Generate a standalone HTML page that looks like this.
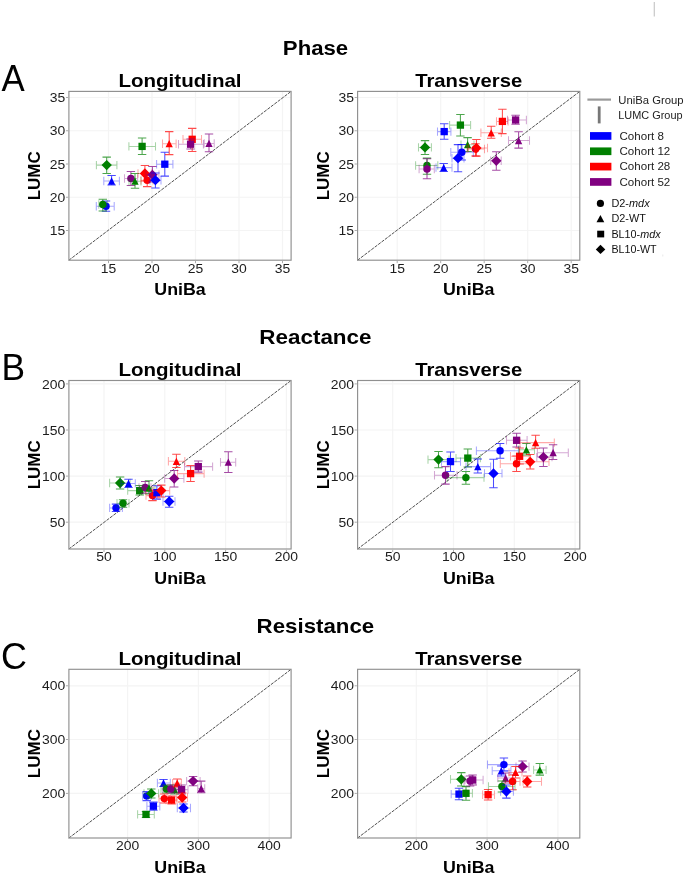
<!DOCTYPE html>
<html><head><meta charset="utf-8"><style>
html,body{margin:0;padding:0;background:#fff;}
svg{display:block;}
text{font-family:"Liberation Sans",sans-serif;}
svg{will-change:transform;}
.tk{font-size:13.4px;fill:#1c1c1c;}
.sub{font-size:18.6px;font-weight:bold;fill:#000;}
.sup{font-size:19.8px;font-weight:bold;fill:#000;}
.lab{font-size:16.1px;font-weight:bold;fill:#000;}
.labv{font-size:17px;font-weight:bold;fill:#000;}
.let{font-size:37px;fill:#000;}
.lg{font-size:11.2px;fill:#222;}
.lm{font-size:10.5px;fill:#111;}
</style></head><body>
<svg width="685" height="875" viewBox="0 0 685 875">
<rect width="685" height="875" fill="#fff"/>
<text transform="translate(315.5 55.1) scale(1.1210 1)" class="sup" text-anchor="middle">Phase</text>
<text transform="translate(315.4 344.1) scale(1.1340 1)" class="sup" text-anchor="middle">Reactance</text>
<text transform="translate(315.4 632.5) scale(1.1250 1)" class="sup" text-anchor="middle">Resistance</text>
<text transform="translate(1.6 91.3) scale(0.9400 1)" class="let">A</text>
<text transform="translate(1.4 379.9) scale(0.9550 1)" class="let">B</text>
<text transform="translate(0.9 669.3) scale(0.9700 1)" class="let">C</text>
<path d="M108.5 91.4V260.2M152 91.4V260.2M195.5 91.4V260.2M239 91.4V260.2M282.5 91.4V260.2M68.9 230.5H291.1M68.9 197.25H291.1M68.9 164H291.1M68.9 130.75H291.1M68.9 97.5H291.1" stroke="#f4f4f4" stroke-width="1.2" fill="none"/>
<path d="M68.9 260.2L291.1 91.4" stroke="#303030" stroke-width="0.85" stroke-dasharray="3.2 1.1" fill="none"/>
<g stroke="#0000ff" stroke-opacity="0.34" stroke-width="1.05" fill="none"><path d="M96.3 206.3H114.2M96.3 202.1V210.5M114.2 202.1V210.5"/></g><g stroke="#0000ff" stroke-opacity="0.7" stroke-width="1.05" fill="none"><path d="M106 201V211.3M101.8 201H110.2M101.8 211.3H110.2"/></g>
<circle cx="106" cy="206.3" r="3.72" fill="#0000ff"/>
<g stroke="#008000" stroke-opacity="0.34" stroke-width="1.05" fill="none"><path d="M98.8 204.5H107.2M98.8 200.3V208.7M107.2 200.3V208.7"/></g><g stroke="#008000" stroke-opacity="0.7" stroke-width="1.05" fill="none"><path d="M102.8 199.3V211M98.6 199.3H107M98.6 211H107"/></g>
<circle cx="102.8" cy="204.5" r="3.72" fill="#008000"/>
<g stroke="#0000ff" stroke-opacity="0.34" stroke-width="1.05" fill="none"><path d="M103.8 181H119.4M103.8 176.8V185.2M119.4 176.8V185.2"/></g><g stroke="#0000ff" stroke-opacity="0.7" stroke-width="1.05" fill="none"><path d="M111.6 175.5V184.9M107.4 175.5H115.8M107.4 184.9H115.8"/></g>
<path d="M111.6 177.35L115.25 184.65L107.95 184.65Z" fill="#0000ff"/>
<g stroke="#800080" stroke-opacity="0.34" stroke-width="1.05" fill="none"><path d="M124.5 178.5H137.6M124.5 174.3V182.7M137.6 174.3V182.7"/></g><g stroke="#800080" stroke-opacity="0.7" stroke-width="1.05" fill="none"><path d="M130.9 171.5V185.5M126.7 171.5H135.1M126.7 185.5H135.1"/></g>
<circle cx="130.9" cy="178.5" r="3.72" fill="#800080"/>
<g stroke="#008000" stroke-opacity="0.34" stroke-width="1.05" fill="none"><path d="M129 181.2H141M129 177V185.4M141 177V185.4"/></g><g stroke="#008000" stroke-opacity="0.7" stroke-width="1.05" fill="none"><path d="M135 173.4V188.2M130.8 173.4H139.2M130.8 188.2H139.2"/></g>
<path d="M135 177.55L138.65 184.85L131.35 184.85Z" fill="#008000"/>
<g stroke="#ff0000" stroke-opacity="0.34" stroke-width="1.05" fill="none"><path d="M138 173.5H152M138 169.3V177.7M152 169.3V177.7"/></g><g stroke="#ff0000" stroke-opacity="0.7" stroke-width="1.05" fill="none"><path d="M144.9 165.4V181M140.7 165.4H149.1M140.7 181H149.1"/></g>
<path d="M144.9 168.34L150.06 173.5L144.9 178.66L139.74 173.5Z" fill="#ff0000"/>
<g stroke="#ff0000" stroke-opacity="0.34" stroke-width="1.05" fill="none"><path d="M141 180.2H153M141 176V184.4M153 176V184.4"/></g><g stroke="#ff0000" stroke-opacity="0.7" stroke-width="1.05" fill="none"><path d="M147.2 174V186.6M143 174H151.4M143 186.6H151.4"/></g>
<circle cx="147.2" cy="180.2" r="3.72" fill="#ff0000"/>
<g stroke="#800080" stroke-opacity="0.34" stroke-width="1.05" fill="none"><path d="M146 174.8H159M146 170.6V179M159 170.6V179"/></g><g stroke="#800080" stroke-opacity="0.7" stroke-width="1.05" fill="none"><path d="M152.4 166.4V182M148.2 166.4H156.6M148.2 182H156.6"/></g>
<path d="M152.4 169.64L157.56 174.8L152.4 179.96L147.24 174.8Z" fill="#800080"/>
<g stroke="#0000ff" stroke-opacity="0.34" stroke-width="1.05" fill="none"><path d="M150 180.2H161M150 176V184.4M161 176V184.4"/></g><g stroke="#0000ff" stroke-opacity="0.7" stroke-width="1.05" fill="none"><path d="M155.4 173V188M151.2 173H159.6M151.2 188H159.6"/></g>
<path d="M155.4 175.04L160.56 180.2L155.4 185.36L150.24 180.2Z" fill="#0000ff"/>
<g stroke="#0000ff" stroke-opacity="0.34" stroke-width="1.05" fill="none"><path d="M156.6 164.2H172.9M156.6 160V168.4M172.9 160V168.4"/></g><g stroke="#0000ff" stroke-opacity="0.7" stroke-width="1.05" fill="none"><path d="M164.8 152.2V176.1M160.6 152.2H169M160.6 176.1H169"/></g>
<rect x="161.15" y="160.55" width="7.3" height="7.3" fill="#0000ff"/>
<g stroke="#008000" stroke-opacity="0.34" stroke-width="1.05" fill="none"><path d="M96.4 165.1H116.9M96.4 160.9V169.3M116.9 160.9V169.3"/></g><g stroke="#008000" stroke-opacity="0.7" stroke-width="1.05" fill="none"><path d="M106.7 157.1V173.4M102.5 157.1H110.9M102.5 173.4H110.9"/></g>
<path d="M106.7 159.94L111.86 165.1L106.7 170.26L101.54 165.1Z" fill="#008000"/>
<g stroke="#008000" stroke-opacity="0.34" stroke-width="1.05" fill="none"><path d="M128.9 146.4H155.5M128.9 142.2V150.6M155.5 142.2V150.6"/></g><g stroke="#008000" stroke-opacity="0.7" stroke-width="1.05" fill="none"><path d="M142.1 138V154.4M137.9 138H146.3M137.9 154.4H146.3"/></g>
<rect x="138.45" y="142.75" width="7.3" height="7.3" fill="#008000"/>
<g stroke="#ff0000" stroke-opacity="0.34" stroke-width="1.05" fill="none"><path d="M162.5 143.7H176.1M162.5 139.5V147.9M176.1 139.5V147.9"/></g><g stroke="#ff0000" stroke-opacity="0.7" stroke-width="1.05" fill="none"><path d="M169.2 131.6V154.6M165 131.6H173.4M165 154.6H173.4"/></g>
<path d="M169.2 140.05L172.85 147.35L165.55 147.35Z" fill="#ff0000"/>
<g stroke="#ff0000" stroke-opacity="0.34" stroke-width="1.05" fill="none"><path d="M183 139.3H201.5M183 135.1V143.5M201.5 135.1V143.5"/></g><g stroke="#ff0000" stroke-opacity="0.7" stroke-width="1.05" fill="none"><path d="M192.2 128.4V151.4M188 128.4H196.4M188 151.4H196.4"/></g>
<rect x="188.55" y="135.65" width="7.3" height="7.3" fill="#ff0000"/>
<g stroke="#800080" stroke-opacity="0.34" stroke-width="1.05" fill="none"><path d="M178.5 144.2H203.4M178.5 140V148.4M203.4 140V148.4"/></g><g stroke="#800080" stroke-opacity="0.7" stroke-width="1.05" fill="none"><path d="M190.6 139V149M186.4 139H194.8M186.4 149H194.8"/></g>
<rect x="186.95" y="140.55" width="7.3" height="7.3" fill="#800080"/>
<g stroke="#800080" stroke-opacity="0.34" stroke-width="1.05" fill="none"><path d="M204.2 143.4H214.2M204.2 139.2V147.6M214.2 139.2V147.6"/></g><g stroke="#800080" stroke-opacity="0.7" stroke-width="1.05" fill="none"><path d="M209 134V151.7M204.8 134H213.2M204.8 151.7H213.2"/></g>
<path d="M209 139.75L212.65 147.05L205.35 147.05Z" fill="#800080"/>
<rect x="68.9" y="91.4" width="222.2" height="168.8" fill="none" stroke="#8f8f8f" stroke-width="1.15"/>
<path d="M108.5 260.95v2.2M152 260.95v2.2M195.5 260.95v2.2M239 260.95v2.2M282.5 260.95v2.2M68.15 230.5h-2.2M68.15 197.25h-2.2M68.15 164h-2.2M68.15 130.75h-2.2M68.15 97.5h-2.2" stroke="#aaa" stroke-width="1" fill="none"/>
<text transform="translate(108.5 272.6) scale(1.0400 1)" class="tk" text-anchor="middle">15</text>
<text transform="translate(152 272.6) scale(1.0400 1)" class="tk" text-anchor="middle">20</text>
<text transform="translate(195.5 272.6) scale(1.0400 1)" class="tk" text-anchor="middle">25</text>
<text transform="translate(239 272.6) scale(1.0400 1)" class="tk" text-anchor="middle">30</text>
<text transform="translate(282.5 272.6) scale(1.0400 1)" class="tk" text-anchor="middle">35</text>
<text transform="translate(65.2 235.15) scale(1.0400 1)" class="tk" text-anchor="end">15</text>
<text transform="translate(65.2 201.9) scale(1.0400 1)" class="tk" text-anchor="end">20</text>
<text transform="translate(65.2 168.65) scale(1.0400 1)" class="tk" text-anchor="end">25</text>
<text transform="translate(65.2 135.4) scale(1.0400 1)" class="tk" text-anchor="end">30</text>
<text transform="translate(65.2 102.15) scale(1.0400 1)" class="tk" text-anchor="end">35</text>
<text transform="translate(180 87.1) scale(1.1040 1)" class="sub" text-anchor="middle">Longitudinal</text>
<text transform="translate(180 295) scale(1.1070 1)" class="lab" text-anchor="middle">UniBa</text>
<text transform="translate(40.1 175.8) rotate(-90)" class="labv" text-anchor="middle">LUMC</text>
<path d="M397.2 91.4V260.2M440.7 91.4V260.2M484.2 91.4V260.2M527.7 91.4V260.2M571.2 91.4V260.2M357.6 230.5H579.8M357.6 197.25H579.8M357.6 164H579.8M357.6 130.75H579.8M357.6 97.5H579.8" stroke="#f4f4f4" stroke-width="1.2" fill="none"/>
<path d="M357.6 260.2L579.8 91.4" stroke="#303030" stroke-width="0.85" stroke-dasharray="3.2 1.1" fill="none"/>
<g stroke="#0000ff" stroke-opacity="0.34" stroke-width="1.05" fill="none"><path d="M437.5 131.6H450.9M437.5 127.4V135.8M450.9 127.4V135.8"/></g><g stroke="#0000ff" stroke-opacity="0.7" stroke-width="1.05" fill="none"><path d="M444.2 123.7V139.2M440 123.7H448.4M440 139.2H448.4"/></g>
<rect x="440.55" y="127.95" width="7.3" height="7.3" fill="#0000ff"/>
<g stroke="#008000" stroke-opacity="0.34" stroke-width="1.05" fill="none"><path d="M418.5 147.4H431.4M418.5 143.2V151.6M431.4 143.2V151.6"/></g><g stroke="#008000" stroke-opacity="0.7" stroke-width="1.05" fill="none"><path d="M425 140.6V154.4M420.8 140.6H429.2M420.8 154.4H429.2"/></g>
<path d="M425 142.24L430.16 147.4L425 152.56L419.84 147.4Z" fill="#008000"/>
<g stroke="#008000" stroke-opacity="0.34" stroke-width="1.05" fill="none"><path d="M415.6 165.5H437.8M415.6 161.3V169.7M437.8 161.3V169.7"/></g><g stroke="#008000" stroke-opacity="0.7" stroke-width="1.05" fill="none"><path d="M427 158.1V174.2M422.8 158.1H431.2M422.8 174.2H431.2"/></g>
<circle cx="427" cy="165.5" r="3.72" fill="#008000"/>
<g stroke="#800080" stroke-opacity="0.34" stroke-width="1.05" fill="none"><path d="M419.1 169H434.3M419.1 164.8V173.2M434.3 164.8V173.2"/></g><g stroke="#800080" stroke-opacity="0.7" stroke-width="1.05" fill="none"><path d="M427 158.8V178.7M422.8 158.8H431.2M422.8 178.7H431.2"/></g>
<circle cx="427" cy="169" r="3.72" fill="#800080"/>
<g stroke="#0000ff" stroke-opacity="0.34" stroke-width="1.05" fill="none"><path d="M436 167.6H452M436 163.4V171.8M452 163.4V171.8"/></g><g stroke="#0000ff" stroke-opacity="0.7" stroke-width="1.05" fill="none"><path d="M443.7 163.5V171.5M439.5 163.5H447.9M439.5 171.5H447.9"/></g>
<path d="M443.7 163.95L447.35 171.25L440.05 171.25Z" fill="#0000ff"/>
<g stroke="#008000" stroke-opacity="0.34" stroke-width="1.05" fill="none"><path d="M449.6 125.1H470.6M449.6 120.9V129.3M470.6 120.9V129.3"/></g><g stroke="#008000" stroke-opacity="0.7" stroke-width="1.05" fill="none"><path d="M460.4 114.4V136M456.2 114.4H464.6M456.2 136H464.6"/></g>
<rect x="456.75" y="121.45" width="7.3" height="7.3" fill="#008000"/>
<g stroke="#008000" stroke-opacity="0.34" stroke-width="1.05" fill="none"><path d="M461 144.7H474M461 140.5V148.9M474 140.5V148.9"/></g><g stroke="#008000" stroke-opacity="0.7" stroke-width="1.05" fill="none"><path d="M467.6 137.6V151.5M463.4 137.6H471.8M463.4 151.5H471.8"/></g>
<path d="M467.6 141.05L471.25 148.35L463.95 148.35Z" fill="#008000"/>
<g stroke="#ff0000" stroke-opacity="0.34" stroke-width="1.05" fill="none"><path d="M467 149H484.5M467 144.8V153.2M484.5 144.8V153.2"/></g><g stroke="#ff0000" stroke-opacity="0.7" stroke-width="1.05" fill="none"><path d="M475.5 143.7V156M471.3 143.7H479.7M471.3 156H479.7"/></g>
<circle cx="475.5" cy="149" r="3.72" fill="#ff0000"/>
<g stroke="#ff0000" stroke-opacity="0.34" stroke-width="1.05" fill="none"><path d="M468.5 148H487.5M468.5 143.8V152.2M487.5 143.8V152.2"/></g><g stroke="#ff0000" stroke-opacity="0.7" stroke-width="1.05" fill="none"><path d="M476.4 139.4V156.1M472.2 139.4H480.6M472.2 156.1H480.6"/></g>
<path d="M476.4 142.84L481.56 148L476.4 153.16L471.24 148Z" fill="#ff0000"/>
<g stroke="#0000ff" stroke-opacity="0.34" stroke-width="1.05" fill="none"><path d="M452 158.2H464M452 154V162.4M464 154V162.4"/></g><g stroke="#0000ff" stroke-opacity="0.7" stroke-width="1.05" fill="none"><path d="M458 144.6V171.8M453.8 144.6H462.2M453.8 171.8H462.2"/></g>
<path d="M458 153.04L463.16 158.2L458 163.36L452.84 158.2Z" fill="#0000ff"/>
<g stroke="#0000ff" stroke-opacity="0.34" stroke-width="1.05" fill="none"><path d="M450.8 152.2H473.3M450.8 148V156.4M473.3 148V156.4"/></g><g stroke="#0000ff" stroke-opacity="0.7" stroke-width="1.05" fill="none"><path d="M461.8 144.5V160M457.6 144.5H466M457.6 160H466"/></g>
<circle cx="461.8" cy="152.2" r="3.72" fill="#0000ff"/>
<g stroke="#ff0000" stroke-opacity="0.34" stroke-width="1.05" fill="none"><path d="M480.9 132.8H501.3M480.9 128.6V137M501.3 128.6V137"/></g><g stroke="#ff0000" stroke-opacity="0.7" stroke-width="1.05" fill="none"><path d="M491.2 126.3V138.3M487 126.3H495.4M487 138.3H495.4"/></g>
<path d="M491.2 129.15L494.85 136.45L487.55 136.45Z" fill="#ff0000"/>
<g stroke="#ff0000" stroke-opacity="0.34" stroke-width="1.05" fill="none"><path d="M496.5 121.4H508.1M496.5 117.2V125.6M508.1 117.2V125.6"/></g><g stroke="#ff0000" stroke-opacity="0.7" stroke-width="1.05" fill="none"><path d="M502.4 109.2V133.6M498.2 109.2H506.6M498.2 133.6H506.6"/></g>
<rect x="498.75" y="117.75" width="7.3" height="7.3" fill="#ff0000"/>
<g stroke="#800080" stroke-opacity="0.34" stroke-width="1.05" fill="none"><path d="M507.5 120H526.4M507.5 115.8V124.2M526.4 115.8V124.2"/></g><g stroke="#800080" stroke-opacity="0.7" stroke-width="1.05" fill="none"><path d="M515.6 115.2V124.3M511.4 115.2H519.8M511.4 124.3H519.8"/></g>
<rect x="511.95" y="116.35" width="7.3" height="7.3" fill="#800080"/>
<g stroke="#800080" stroke-opacity="0.34" stroke-width="1.05" fill="none"><path d="M508.5 140.5H529.5M508.5 136.3V144.7M529.5 136.3V144.7"/></g><g stroke="#800080" stroke-opacity="0.7" stroke-width="1.05" fill="none"><path d="M518.6 131.8V148.1M514.4 131.8H522.8M514.4 148.1H522.8"/></g>
<path d="M518.6 136.85L522.25 144.15L514.95 144.15Z" fill="#800080"/>
<g stroke="#800080" stroke-opacity="0.34" stroke-width="1.05" fill="none"><path d="M490.7 160.8H501.2M490.7 156.6V165M501.2 156.6V165"/></g><g stroke="#800080" stroke-opacity="0.7" stroke-width="1.05" fill="none"><path d="M496.3 151.7V170.3M492.1 151.7H500.5M492.1 170.3H500.5"/></g>
<path d="M496.3 155.64L501.46 160.8L496.3 165.96L491.14 160.8Z" fill="#800080"/>
<rect x="357.6" y="91.4" width="222.2" height="168.8" fill="none" stroke="#8f8f8f" stroke-width="1.15"/>
<path d="M397.2 260.95v2.2M440.7 260.95v2.2M484.2 260.95v2.2M527.7 260.95v2.2M571.2 260.95v2.2M356.85 230.5h-2.2M356.85 197.25h-2.2M356.85 164h-2.2M356.85 130.75h-2.2M356.85 97.5h-2.2" stroke="#aaa" stroke-width="1" fill="none"/>
<text transform="translate(397.2 272.6) scale(1.0400 1)" class="tk" text-anchor="middle">15</text>
<text transform="translate(440.7 272.6) scale(1.0400 1)" class="tk" text-anchor="middle">20</text>
<text transform="translate(484.2 272.6) scale(1.0400 1)" class="tk" text-anchor="middle">25</text>
<text transform="translate(527.7 272.6) scale(1.0400 1)" class="tk" text-anchor="middle">30</text>
<text transform="translate(571.2 272.6) scale(1.0400 1)" class="tk" text-anchor="middle">35</text>
<text transform="translate(353.9 235.15) scale(1.0400 1)" class="tk" text-anchor="end">15</text>
<text transform="translate(353.9 201.9) scale(1.0400 1)" class="tk" text-anchor="end">20</text>
<text transform="translate(353.9 168.65) scale(1.0400 1)" class="tk" text-anchor="end">25</text>
<text transform="translate(353.9 135.4) scale(1.0400 1)" class="tk" text-anchor="end">30</text>
<text transform="translate(353.9 102.15) scale(1.0400 1)" class="tk" text-anchor="end">35</text>
<text transform="translate(468.7 87.1) scale(1.0900 1)" class="sub" text-anchor="middle">Transverse</text>
<text transform="translate(468.7 295) scale(1.1070 1)" class="lab" text-anchor="middle">UniBa</text>
<text transform="translate(328.8 175.8) rotate(-90)" class="labv" text-anchor="middle">LUMC</text>
<path d="M104 380.5V549M164.8 380.5V549M225.6 380.5V549M286.4 380.5V549M68.9 522.2H291.1M68.9 476.1H291.1M68.9 430H291.1M68.9 383.9H291.1" stroke="#f4f4f4" stroke-width="1.2" fill="none"/>
<path d="M68.9 549L291.1 380.5" stroke="#303030" stroke-width="0.85" stroke-dasharray="3.2 1.1" fill="none"/>
<g stroke="#0000ff" stroke-opacity="0.34" stroke-width="1.05" fill="none"><path d="M109.6 507.9H122.4M109.6 503.7V512.1M122.4 503.7V512.1"/></g><g stroke="#0000ff" stroke-opacity="0.7" stroke-width="1.05" fill="none"><path d="M116 504.1V511.4M111.8 504.1H120.2M111.8 511.4H120.2"/></g>
<circle cx="116" cy="507.9" r="3.72" fill="#0000ff"/>
<g stroke="#008000" stroke-opacity="0.34" stroke-width="1.05" fill="none"><path d="M117 503.2H129M117 499V507.4M129 499V507.4"/></g><g stroke="#008000" stroke-opacity="0.7" stroke-width="1.05" fill="none"><path d="M123 499.7V507.3M118.8 499.7H127.2M118.8 507.3H127.2"/></g>
<circle cx="123" cy="503.2" r="3.72" fill="#008000"/>
<g stroke="#008000" stroke-opacity="0.34" stroke-width="1.05" fill="none"><path d="M109.6 483H130M109.6 478.8V487.2M130 478.8V487.2"/></g><g stroke="#008000" stroke-opacity="0.7" stroke-width="1.05" fill="none"><path d="M120.1 476.9V489M115.9 476.9H124.3M115.9 489H124.3"/></g>
<path d="M120.1 477.84L125.26 483L120.1 488.16L114.94 483Z" fill="#008000"/>
<g stroke="#0000ff" stroke-opacity="0.34" stroke-width="1.05" fill="none"><path d="M121 483.4H135.3M121 479.2V487.6M135.3 479.2V487.6"/></g><g stroke="#0000ff" stroke-opacity="0.7" stroke-width="1.05" fill="none"><path d="M128.5 479.3V487.5M124.3 479.3H132.7M124.3 487.5H132.7"/></g>
<path d="M128.5 479.75L132.15 487.05L124.85 487.05Z" fill="#0000ff"/>
<g stroke="#008000" stroke-opacity="0.34" stroke-width="1.05" fill="none"><path d="M127.7 490.6H151.5M127.7 486.4V494.8M151.5 486.4V494.8"/></g><g stroke="#008000" stroke-opacity="0.7" stroke-width="1.05" fill="none"><path d="M139.7 485.5V495M135.5 485.5H143.9M135.5 495H143.9"/></g>
<rect x="136.05" y="486.95" width="7.3" height="7.3" fill="#008000"/>
<g stroke="#800080" stroke-opacity="0.34" stroke-width="1.05" fill="none"><path d="M139 487.4H151M139 483.2V491.6M151 483.2V491.6"/></g><g stroke="#800080" stroke-opacity="0.7" stroke-width="1.05" fill="none"><path d="M145.2 481.4V493.3M141 481.4H149.4M141 493.3H149.4"/></g>
<circle cx="145.2" cy="487.4" r="3.72" fill="#800080"/>
<g stroke="#008000" stroke-opacity="0.34" stroke-width="1.05" fill="none"><path d="M143 488H155M143 483.8V492.2M155 483.8V492.2"/></g><g stroke="#008000" stroke-opacity="0.7" stroke-width="1.05" fill="none"><path d="M149 480.8V494M144.8 480.8H153.2M144.8 494H153.2"/></g>
<path d="M149 484.35L152.65 491.65L145.35 491.65Z" fill="#008000"/>
<g stroke="#ff0000" stroke-opacity="0.34" stroke-width="1.05" fill="none"><path d="M146 495.6H159M146 491.4V499.8M159 491.4V499.8"/></g><g stroke="#ff0000" stroke-opacity="0.7" stroke-width="1.05" fill="none"><path d="M152.5 490V500.6M148.3 490H156.7M148.3 500.6H156.7"/></g>
<circle cx="152.5" cy="495.6" r="3.72" fill="#ff0000"/>
<g stroke="#0000ff" stroke-opacity="0.34" stroke-width="1.05" fill="none"><path d="M150 492.7H163M150 488.5V496.9M163 488.5V496.9"/></g><g stroke="#0000ff" stroke-opacity="0.7" stroke-width="1.05" fill="none"><path d="M156.9 485.7V499.1M152.7 485.7H161.1M152.7 499.1H161.1"/></g>
<rect x="153.25" y="489.05" width="7.3" height="7.3" fill="#0000ff"/>
<g stroke="#ff0000" stroke-opacity="0.34" stroke-width="1.05" fill="none"><path d="M153 490.6H169.7M153 486.4V494.8M169.7 486.4V494.8"/></g><g stroke="#ff0000" stroke-opacity="0.7" stroke-width="1.05" fill="none"><path d="M161.3 485.1V497M157.1 485.1H165.5M157.1 497H165.5"/></g>
<path d="M161.3 485.44L166.46 490.6L161.3 495.76L156.14 490.6Z" fill="#ff0000"/>
<g stroke="#0000ff" stroke-opacity="0.34" stroke-width="1.05" fill="none"><path d="M163 501.5H175M163 497.3V505.7M175 497.3V505.7"/></g><g stroke="#0000ff" stroke-opacity="0.7" stroke-width="1.05" fill="none"><path d="M169.2 496.2V507.3M165 496.2H173.4M165 507.3H173.4"/></g>
<path d="M169.2 496.34L174.36 501.5L169.2 506.66L164.04 501.5Z" fill="#0000ff"/>
<g stroke="#800080" stroke-opacity="0.34" stroke-width="1.05" fill="none"><path d="M164.7 478.5H183.9M164.7 474.3V482.7M183.9 474.3V482.7"/></g><g stroke="#800080" stroke-opacity="0.7" stroke-width="1.05" fill="none"><path d="M174.2 470.4V487M170 470.4H178.4M170 487H178.4"/></g>
<path d="M174.2 473.34L179.36 478.5L174.2 483.66L169.04 478.5Z" fill="#800080"/>
<g stroke="#ff0000" stroke-opacity="0.34" stroke-width="1.05" fill="none"><path d="M168.4 461.3H184.8M168.4 457.1V465.5M184.8 457.1V465.5"/></g><g stroke="#ff0000" stroke-opacity="0.7" stroke-width="1.05" fill="none"><path d="M176.4 454.2V467.4M172.2 454.2H180.6M172.2 467.4H180.6"/></g>
<path d="M176.4 457.65L180.05 464.95L172.75 464.95Z" fill="#ff0000"/>
<g stroke="#ff0000" stroke-opacity="0.34" stroke-width="1.05" fill="none"><path d="M177.5 473.6H204.1M177.5 469.4V477.8M204.1 469.4V477.8"/></g><g stroke="#ff0000" stroke-opacity="0.7" stroke-width="1.05" fill="none"><path d="M190.6 465.5V481.5M186.4 465.5H194.8M186.4 481.5H194.8"/></g>
<rect x="186.95" y="469.95" width="7.3" height="7.3" fill="#ff0000"/>
<g stroke="#800080" stroke-opacity="0.34" stroke-width="1.05" fill="none"><path d="M184.5 466.6H212.6M184.5 462.4V470.8M212.6 462.4V470.8"/></g><g stroke="#800080" stroke-opacity="0.7" stroke-width="1.05" fill="none"><path d="M198.3 461V472.1M194.1 461H202.5M194.1 472.1H202.5"/></g>
<rect x="194.65" y="462.95" width="7.3" height="7.3" fill="#800080"/>
<g stroke="#800080" stroke-opacity="0.34" stroke-width="1.05" fill="none"><path d="M220.5 462.2H235.7M220.5 458V466.4M235.7 458V466.4"/></g><g stroke="#800080" stroke-opacity="0.7" stroke-width="1.05" fill="none"><path d="M228.3 451.7V472.5M224.1 451.7H232.5M224.1 472.5H232.5"/></g>
<path d="M228.3 458.55L231.95 465.85L224.65 465.85Z" fill="#800080"/>
<rect x="68.9" y="380.5" width="222.2" height="168.5" fill="none" stroke="#8f8f8f" stroke-width="1.15"/>
<path d="M104 549.75v2.2M164.8 549.75v2.2M225.6 549.75v2.2M286.4 549.75v2.2M68.15 522.2h-2.2M68.15 476.1h-2.2M68.15 430h-2.2M68.15 383.9h-2.2" stroke="#aaa" stroke-width="1" fill="none"/>
<text transform="translate(104 561.4) scale(1.0400 1)" class="tk" text-anchor="middle">50</text>
<text transform="translate(164.8 561.4) scale(1.0400 1)" class="tk" text-anchor="middle">100</text>
<text transform="translate(225.6 561.4) scale(1.0400 1)" class="tk" text-anchor="middle">150</text>
<text transform="translate(286.4 561.4) scale(1.0400 1)" class="tk" text-anchor="middle">200</text>
<text transform="translate(65.2 526.85) scale(1.0400 1)" class="tk" text-anchor="end">50</text>
<text transform="translate(65.2 480.75) scale(1.0400 1)" class="tk" text-anchor="end">100</text>
<text transform="translate(65.2 434.65) scale(1.0400 1)" class="tk" text-anchor="end">150</text>
<text transform="translate(65.2 388.55) scale(1.0400 1)" class="tk" text-anchor="end">200</text>
<text transform="translate(180 376.2) scale(1.1040 1)" class="sub" text-anchor="middle">Longitudinal</text>
<text transform="translate(180 583.8) scale(1.1070 1)" class="lab" text-anchor="middle">UniBa</text>
<text transform="translate(40.1 464.75) rotate(-90)" class="labv" text-anchor="middle">LUMC</text>
<path d="M392.7 380.5V549M453.5 380.5V549M514.3 380.5V549M575.1 380.5V549M357.6 522.2H579.8M357.6 476.1H579.8M357.6 430H579.8M357.6 383.9H579.8" stroke="#f4f4f4" stroke-width="1.2" fill="none"/>
<path d="M357.6 549L579.8 380.5" stroke="#303030" stroke-width="0.85" stroke-dasharray="3.2 1.1" fill="none"/>
<g stroke="#008000" stroke-opacity="0.34" stroke-width="1.05" fill="none"><path d="M428 459.6H449M428 455.4V463.8M449 455.4V463.8"/></g><g stroke="#008000" stroke-opacity="0.7" stroke-width="1.05" fill="none"><path d="M438.5 451.4V467.8M434.3 451.4H442.7M434.3 467.8H442.7"/></g>
<path d="M438.5 454.44L443.66 459.6L438.5 464.76L433.34 459.6Z" fill="#008000"/>
<g stroke="#800080" stroke-opacity="0.34" stroke-width="1.05" fill="none"><path d="M434.5 475.3H457M434.5 471.1V479.5M457 471.1V479.5"/></g><g stroke="#800080" stroke-opacity="0.7" stroke-width="1.05" fill="none"><path d="M445.5 466.6V484.1M441.3 466.6H449.7M441.3 484.1H449.7"/></g>
<circle cx="445.5" cy="475.3" r="3.72" fill="#800080"/>
<g stroke="#0000ff" stroke-opacity="0.34" stroke-width="1.05" fill="none"><path d="M441.5 461.6H460.5M441.5 457.4V465.8M460.5 457.4V465.8"/></g><g stroke="#0000ff" stroke-opacity="0.7" stroke-width="1.05" fill="none"><path d="M450.5 451.9V471.5M446.3 451.9H454.7M446.3 471.5H454.7"/></g>
<rect x="446.85" y="457.95" width="7.3" height="7.3" fill="#0000ff"/>
<g stroke="#008000" stroke-opacity="0.34" stroke-width="1.05" fill="none"><path d="M456 458.1H480.4M456 453.9V462.3M480.4 453.9V462.3"/></g><g stroke="#008000" stroke-opacity="0.7" stroke-width="1.05" fill="none"><path d="M467.8 448.9V466.9M463.6 448.9H472M463.6 466.9H472"/></g>
<rect x="464.15" y="454.45" width="7.3" height="7.3" fill="#008000"/>
<g stroke="#008000" stroke-opacity="0.34" stroke-width="1.05" fill="none"><path d="M447 477.6H484M447 473.4V481.8M484 473.4V481.8"/></g><g stroke="#008000" stroke-opacity="0.7" stroke-width="1.05" fill="none"><path d="M465.9 471.4V484.3M461.7 471.4H470.1M461.7 484.3H470.1"/></g>
<circle cx="465.9" cy="477.6" r="3.72" fill="#008000"/>
<g stroke="#0000ff" stroke-opacity="0.34" stroke-width="1.05" fill="none"><path d="M466 466.6H490.6M466 462.4V470.8M490.6 462.4V470.8"/></g><g stroke="#0000ff" stroke-opacity="0.7" stroke-width="1.05" fill="none"><path d="M477.8 459V473M473.6 459H482M473.6 473H482"/></g>
<path d="M477.8 462.95L481.45 470.25L474.15 470.25Z" fill="#0000ff"/>
<g stroke="#0000ff" stroke-opacity="0.34" stroke-width="1.05" fill="none"><path d="M476.4 450.8H518.4M476.4 446.6V455M518.4 446.6V455"/></g><g stroke="#0000ff" stroke-opacity="0.7" stroke-width="1.05" fill="none"><path d="M500.1 443.4V458.3M495.9 443.4H504.3M495.9 458.3H504.3"/></g>
<circle cx="500.1" cy="450.8" r="3.72" fill="#0000ff"/>
<g stroke="#0000ff" stroke-opacity="0.34" stroke-width="1.05" fill="none"><path d="M484.5 473.4H502M484.5 469.2V477.6M502 469.2V477.6"/></g><g stroke="#0000ff" stroke-opacity="0.7" stroke-width="1.05" fill="none"><path d="M493.5 459.2V487.8M489.3 459.2H497.7M489.3 487.8H497.7"/></g>
<path d="M493.5 468.24L498.66 473.4L493.5 478.56L488.34 473.4Z" fill="#0000ff"/>
<g stroke="#800080" stroke-opacity="0.34" stroke-width="1.05" fill="none"><path d="M506.5 440.3H527.1M506.5 436.1V444.5M527.1 436.1V444.5"/></g><g stroke="#800080" stroke-opacity="0.7" stroke-width="1.05" fill="none"><path d="M516.6 433.3V447M512.4 433.3H520.8M512.4 447H520.8"/></g>
<rect x="512.95" y="436.65" width="7.3" height="7.3" fill="#800080"/>
<g stroke="#ff0000" stroke-opacity="0.34" stroke-width="1.05" fill="none"><path d="M510.5 456.3H529M510.5 452.1V460.5M529 452.1V460.5"/></g><g stroke="#ff0000" stroke-opacity="0.7" stroke-width="1.05" fill="none"><path d="M519.6 448V464M515.4 448H523.8M515.4 464H523.8"/></g>
<rect x="515.95" y="452.65" width="7.3" height="7.3" fill="#ff0000"/>
<g stroke="#008000" stroke-opacity="0.34" stroke-width="1.05" fill="none"><path d="M518.7 449.8H534.5M518.7 445.6V454M534.5 445.6V454"/></g><g stroke="#008000" stroke-opacity="0.7" stroke-width="1.05" fill="none"><path d="M526.4 443.4V455M522.2 443.4H530.6M522.2 455H530.6"/></g>
<path d="M526.4 446.15L530.05 453.45L522.75 453.45Z" fill="#008000"/>
<g stroke="#ff0000" stroke-opacity="0.34" stroke-width="1.05" fill="none"><path d="M520 442.6H554.3M520 438.4V446.8M554.3 438.4V446.8"/></g><g stroke="#ff0000" stroke-opacity="0.7" stroke-width="1.05" fill="none"><path d="M535.6 435.2V448.3M531.4 435.2H539.8M531.4 448.3H539.8"/></g>
<path d="M535.6 438.95L539.25 446.25L531.95 446.25Z" fill="#ff0000"/>
<g stroke="#ff0000" stroke-opacity="0.34" stroke-width="1.05" fill="none"><path d="M500.3 463.7H530M500.3 459.5V467.9M530 459.5V467.9"/></g><g stroke="#ff0000" stroke-opacity="0.7" stroke-width="1.05" fill="none"><path d="M516.5 456V471.5M512.3 456H520.7M512.3 471.5H520.7"/></g>
<circle cx="516.5" cy="463.7" r="3.72" fill="#ff0000"/>
<g stroke="#ff0000" stroke-opacity="0.34" stroke-width="1.05" fill="none"><path d="M515 461.8H549M515 457.6V466M549 457.6V466"/></g><g stroke="#ff0000" stroke-opacity="0.7" stroke-width="1.05" fill="none"><path d="M530.2 454.5V469M526 454.5H534.4M526 469H534.4"/></g>
<path d="M530.2 456.64L535.36 461.8L530.2 466.96L525.04 461.8Z" fill="#ff0000"/>
<g stroke="#800080" stroke-opacity="0.34" stroke-width="1.05" fill="none"><path d="M536.8 457.1H552M536.8 452.9V461.3M552 452.9V461.3"/></g><g stroke="#800080" stroke-opacity="0.7" stroke-width="1.05" fill="none"><path d="M543.4 448V466.5M539.2 448H547.6M539.2 466.5H547.6"/></g>
<path d="M543.4 451.94L548.56 457.1L543.4 462.26L538.24 457.1Z" fill="#800080"/>
<g stroke="#800080" stroke-opacity="0.34" stroke-width="1.05" fill="none"><path d="M537.4 452.7H568.3M537.4 448.5V456.9M568.3 448.5V456.9"/></g><g stroke="#800080" stroke-opacity="0.7" stroke-width="1.05" fill="none"><path d="M553.1 444.8V459.5M548.9 444.8H557.3M548.9 459.5H557.3"/></g>
<path d="M553.1 449.05L556.75 456.35L549.45 456.35Z" fill="#800080"/>
<rect x="357.6" y="380.5" width="222.2" height="168.5" fill="none" stroke="#8f8f8f" stroke-width="1.15"/>
<path d="M392.7 549.75v2.2M453.5 549.75v2.2M514.3 549.75v2.2M575.1 549.75v2.2M356.85 522.2h-2.2M356.85 476.1h-2.2M356.85 430h-2.2M356.85 383.9h-2.2" stroke="#aaa" stroke-width="1" fill="none"/>
<text transform="translate(392.7 561.4) scale(1.0400 1)" class="tk" text-anchor="middle">50</text>
<text transform="translate(453.5 561.4) scale(1.0400 1)" class="tk" text-anchor="middle">100</text>
<text transform="translate(514.3 561.4) scale(1.0400 1)" class="tk" text-anchor="middle">150</text>
<text transform="translate(575.1 561.4) scale(1.0400 1)" class="tk" text-anchor="middle">200</text>
<text transform="translate(353.9 526.85) scale(1.0400 1)" class="tk" text-anchor="end">50</text>
<text transform="translate(353.9 480.75) scale(1.0400 1)" class="tk" text-anchor="end">100</text>
<text transform="translate(353.9 434.65) scale(1.0400 1)" class="tk" text-anchor="end">150</text>
<text transform="translate(353.9 388.55) scale(1.0400 1)" class="tk" text-anchor="end">200</text>
<text transform="translate(468.7 376.2) scale(1.0900 1)" class="sub" text-anchor="middle">Transverse</text>
<text transform="translate(468.7 583.8) scale(1.1070 1)" class="lab" text-anchor="middle">UniBa</text>
<text transform="translate(328.8 464.75) rotate(-90)" class="labv" text-anchor="middle">LUMC</text>
<path d="M127.6 669.3V838M198.4 669.3V838M269.2 669.3V838M68.9 793.4H291.1M68.9 739.5H291.1M68.9 685.8H291.1" stroke="#f4f4f4" stroke-width="1.2" fill="none"/>
<path d="M68.9 838L291.1 669.3" stroke="#303030" stroke-width="0.85" stroke-dasharray="3.2 1.1" fill="none"/>
<g stroke="#0000ff" stroke-opacity="0.34" stroke-width="1.05" fill="none"><path d="M142.6 795.9H151M142.6 791.7V800.1M151 791.7V800.1"/></g><g stroke="#0000ff" stroke-opacity="0.7" stroke-width="1.05" fill="none"><path d="M146.7 791.6V800.6M142.5 791.6H150.9M142.5 800.6H150.9"/></g>
<circle cx="146.7" cy="795.9" r="3.72" fill="#0000ff"/>
<g stroke="#008000" stroke-opacity="0.34" stroke-width="1.05" fill="none"><path d="M144 793.4H158.6M144 789.2V797.6M158.6 789.2V797.6"/></g><g stroke="#008000" stroke-opacity="0.7" stroke-width="1.05" fill="none"><path d="M151.3 789V798M147.1 789H155.5M147.1 798H155.5"/></g>
<path d="M151.3 788.24L156.46 793.4L151.3 798.56L146.14 793.4Z" fill="#008000"/>
<g stroke="#0000ff" stroke-opacity="0.34" stroke-width="1.05" fill="none"><path d="M146.9 806.2H159.8M146.9 802V810.4M159.8 802V810.4"/></g><g stroke="#0000ff" stroke-opacity="0.7" stroke-width="1.05" fill="none"><path d="M153.4 802.1V810.3M149.2 802.1H157.6M149.2 810.3H157.6"/></g>
<rect x="149.75" y="802.55" width="7.3" height="7.3" fill="#0000ff"/>
<g stroke="#008000" stroke-opacity="0.34" stroke-width="1.05" fill="none"><path d="M137.6 814.4H154.3M137.6 810.2V818.6M154.3 810.2V818.6"/></g><g stroke="#008000" stroke-opacity="0.7" stroke-width="1.05" fill="none"><path d="M146 811.5V817.5M141.8 811.5H150.2M141.8 817.5H150.2"/></g>
<rect x="142.35" y="810.75" width="7.3" height="7.3" fill="#008000"/>
<g stroke="#0000ff" stroke-opacity="0.34" stroke-width="1.05" fill="none"><path d="M157.4 783H170.3M157.4 778.8V787.2M170.3 778.8V787.2"/></g><g stroke="#0000ff" stroke-opacity="0.7" stroke-width="1.05" fill="none"><path d="M163.5 779.5V786.5M159.3 779.5H167.7M159.3 786.5H167.7"/></g>
<path d="M163.5 779.35L167.15 786.65L159.85 786.65Z" fill="#0000ff"/>
<g stroke="#008000" stroke-opacity="0.34" stroke-width="1.05" fill="none"><path d="M161 789H172M161 784.8V793.2M172 784.8V793.2"/></g><g stroke="#008000" stroke-opacity="0.7" stroke-width="1.05" fill="none"><path d="M166.4 785V793M162.2 785H170.6M162.2 793H170.6"/></g>
<circle cx="166.4" cy="789" r="3.72" fill="#008000"/>
<g stroke="#008000" stroke-opacity="0.34" stroke-width="1.05" fill="none"><path d="M169 789.5H180M169 785.3V793.7M180 785.3V793.7"/></g><g stroke="#008000" stroke-opacity="0.7" stroke-width="1.05" fill="none"><path d="M174.5 785V794M170.3 785H178.7M170.3 794H178.7"/></g>
<path d="M174.5 785.85L178.15 793.15L170.85 793.15Z" fill="#008000"/>
<g stroke="#800080" stroke-opacity="0.34" stroke-width="1.05" fill="none"><path d="M162.7 789H178M162.7 784.8V793.2M178 784.8V793.2"/></g><g stroke="#800080" stroke-opacity="0.7" stroke-width="1.05" fill="none"><path d="M170.8 785V793M166.6 785H175M166.6 793H175"/></g>
<circle cx="170.8" cy="789" r="3.72" fill="#800080"/>
<g stroke="#ff0000" stroke-opacity="0.34" stroke-width="1.05" fill="none"><path d="M172.6 783.2H181.4M172.6 779V787.4M181.4 779V787.4"/></g><g stroke="#ff0000" stroke-opacity="0.7" stroke-width="1.05" fill="none"><path d="M177.2 779V787M173 779H181.4M173 787H181.4"/></g>
<path d="M177.2 779.55L180.85 786.85L173.55 786.85Z" fill="#ff0000"/>
<g stroke="#800080" stroke-opacity="0.34" stroke-width="1.05" fill="none"><path d="M176 789.6H188M176 785.4V793.8M188 785.4V793.8"/></g><g stroke="#800080" stroke-opacity="0.7" stroke-width="1.05" fill="none"><path d="M181.6 785V794M177.4 785H185.8M177.4 794H185.8"/></g>
<rect x="177.95" y="785.95" width="7.3" height="7.3" fill="#800080"/>
<g stroke="#ff0000" stroke-opacity="0.34" stroke-width="1.05" fill="none"><path d="M159 798.6H170M159 794.4V802.8M170 794.4V802.8"/></g><g stroke="#ff0000" stroke-opacity="0.7" stroke-width="1.05" fill="none"><path d="M164.3 794V803M160.1 794H168.5M160.1 803H168.5"/></g>
<circle cx="164.3" cy="798.6" r="3.72" fill="#ff0000"/>
<g stroke="#ff0000" stroke-opacity="0.34" stroke-width="1.05" fill="none"><path d="M166 800.1H177M166 795.9V804.3M177 795.9V804.3"/></g><g stroke="#ff0000" stroke-opacity="0.7" stroke-width="1.05" fill="none"><path d="M171.6 796V804M167.4 796H175.8M167.4 804H175.8"/></g>
<rect x="167.95" y="796.45" width="7.3" height="7.3" fill="#ff0000"/>
<g stroke="#ff0000" stroke-opacity="0.34" stroke-width="1.05" fill="none"><path d="M176.7 797.5H187.5M176.7 793.3V801.7M187.5 793.3V801.7"/></g><g stroke="#ff0000" stroke-opacity="0.7" stroke-width="1.05" fill="none"><path d="M182.2 793V802M178 793H186.4M178 802H186.4"/></g>
<path d="M182.2 792.34L187.36 797.5L182.2 802.66L177.04 797.5Z" fill="#ff0000"/>
<g stroke="#0000ff" stroke-opacity="0.34" stroke-width="1.05" fill="none"><path d="M177.3 808H190.5M177.3 803.8V812.2M190.5 803.8V812.2"/></g><g stroke="#0000ff" stroke-opacity="0.7" stroke-width="1.05" fill="none"><path d="M183.5 804V812M179.3 804H187.7M179.3 812H187.7"/></g>
<path d="M183.5 802.84L188.66 808L183.5 813.16L178.34 808Z" fill="#0000ff"/>
<g stroke="#800080" stroke-opacity="0.34" stroke-width="1.05" fill="none"><path d="M186.6 781.1H200.1M186.6 776.9V785.3M200.1 776.9V785.3"/></g><g stroke="#800080" stroke-opacity="0.7" stroke-width="1.05" fill="none"><path d="M193.1 776.4V785.8M188.9 776.4H197.3M188.9 785.8H197.3"/></g>
<path d="M193.1 775.94L198.26 781.1L193.1 786.26L187.94 781.1Z" fill="#800080"/>
<g stroke="#800080" stroke-opacity="0.34" stroke-width="1.05" fill="none"><path d="M197.7 788.5H204.7M197.7 784.3V792.7M204.7 784.3V792.7"/></g><g stroke="#800080" stroke-opacity="0.7" stroke-width="1.05" fill="none"><path d="M201.2 781.1V792.8M197 781.1H205.4M197 792.8H205.4"/></g>
<path d="M201.2 784.85L204.85 792.15L197.55 792.15Z" fill="#800080"/>
<rect x="68.9" y="669.3" width="222.2" height="168.7" fill="none" stroke="#8f8f8f" stroke-width="1.15"/>
<path d="M127.6 838.75v2.2M198.4 838.75v2.2M269.2 838.75v2.2M68.15 793.4h-2.2M68.15 739.5h-2.2M68.15 685.8h-2.2" stroke="#aaa" stroke-width="1" fill="none"/>
<text transform="translate(127.6 850.4) scale(1.0400 1)" class="tk" text-anchor="middle">200</text>
<text transform="translate(198.4 850.4) scale(1.0400 1)" class="tk" text-anchor="middle">300</text>
<text transform="translate(269.2 850.4) scale(1.0400 1)" class="tk" text-anchor="middle">400</text>
<text transform="translate(65.2 798.05) scale(1.0400 1)" class="tk" text-anchor="end">200</text>
<text transform="translate(65.2 744.15) scale(1.0400 1)" class="tk" text-anchor="end">300</text>
<text transform="translate(65.2 690.45) scale(1.0400 1)" class="tk" text-anchor="end">400</text>
<text transform="translate(180 665) scale(1.1040 1)" class="sub" text-anchor="middle">Longitudinal</text>
<text transform="translate(180 872.8) scale(1.1070 1)" class="lab" text-anchor="middle">UniBa</text>
<text transform="translate(40.1 753.65) rotate(-90)" class="labv" text-anchor="middle">LUMC</text>
<path d="M416.3 669.3V838M487.1 669.3V838M557.9 669.3V838M357.6 793.4H579.8M357.6 739.5H579.8M357.6 685.8H579.8" stroke="#f4f4f4" stroke-width="1.2" fill="none"/>
<path d="M357.6 838L579.8 669.3" stroke="#303030" stroke-width="0.85" stroke-dasharray="3.2 1.1" fill="none"/>
<g stroke="#0000ff" stroke-opacity="0.34" stroke-width="1.05" fill="none"><path d="M451.2 794.1H466M451.2 789.9V798.3M466 789.9V798.3"/></g><g stroke="#0000ff" stroke-opacity="0.7" stroke-width="1.05" fill="none"><path d="M459 788.3V799.7M454.8 788.3H463.2M454.8 799.7H463.2"/></g>
<rect x="455.35" y="790.45" width="7.3" height="7.3" fill="#0000ff"/>
<g stroke="#008000" stroke-opacity="0.34" stroke-width="1.05" fill="none"><path d="M460 793.3H472.4M460 789.1V797.5M472.4 789.1V797.5"/></g><g stroke="#008000" stroke-opacity="0.7" stroke-width="1.05" fill="none"><path d="M466 786.6V800.3M461.8 786.6H470.2M461.8 800.3H470.2"/></g>
<rect x="462.35" y="789.65" width="7.3" height="7.3" fill="#008000"/>
<g stroke="#008000" stroke-opacity="0.34" stroke-width="1.05" fill="none"><path d="M450.5 779.3H472M450.5 775.1V783.5M472 775.1V783.5"/></g><g stroke="#008000" stroke-opacity="0.7" stroke-width="1.05" fill="none"><path d="M461.3 772.6V785.9M457.1 772.6H465.5M457.1 785.9H465.5"/></g>
<path d="M461.3 774.14L466.46 779.3L461.3 784.46L456.14 779.3Z" fill="#008000"/>
<g stroke="#800080" stroke-opacity="0.34" stroke-width="1.05" fill="none"><path d="M464 781H476M464 776.8V785.2M476 776.8V785.2"/></g><g stroke="#800080" stroke-opacity="0.7" stroke-width="1.05" fill="none"><path d="M470.1 776V786M465.9 776H474.3M465.9 786H474.3"/></g>
<circle cx="470.1" cy="781" r="3.72" fill="#800080"/>
<g stroke="#800080" stroke-opacity="0.34" stroke-width="1.05" fill="none"><path d="M465 780H483.1M465 775.8V784.2M483.1 775.8V784.2"/></g><g stroke="#800080" stroke-opacity="0.7" stroke-width="1.05" fill="none"><path d="M472.6 775V785M468.4 775H476.8M468.4 785H476.8"/></g>
<rect x="468.95" y="776.35" width="7.3" height="7.3" fill="#800080"/>
<g stroke="#ff0000" stroke-opacity="0.34" stroke-width="1.05" fill="none"><path d="M482.6 794.7H494.5M482.6 790.5V798.9M494.5 790.5V798.9"/></g><g stroke="#ff0000" stroke-opacity="0.7" stroke-width="1.05" fill="none"><path d="M488.1 789.5V800M483.9 789.5H492.3M483.9 800H492.3"/></g>
<rect x="484.45" y="791.05" width="7.3" height="7.3" fill="#ff0000"/>
<g stroke="#0000ff" stroke-opacity="0.34" stroke-width="1.05" fill="none"><path d="M487.5 764.6H521.4M487.5 760.4V768.8M521.4 760.4V768.8"/></g><g stroke="#0000ff" stroke-opacity="0.7" stroke-width="1.05" fill="none"><path d="M503.9 757.9V771M499.7 757.9H508.1M499.7 771H508.1"/></g>
<circle cx="503.9" cy="764.6" r="3.72" fill="#0000ff"/>
<g stroke="#0000ff" stroke-opacity="0.34" stroke-width="1.05" fill="none"><path d="M492.2 770.8H510.9M492.2 766.6V775M510.9 766.6V775"/></g><g stroke="#0000ff" stroke-opacity="0.7" stroke-width="1.05" fill="none"><path d="M501.3 766V776M497.1 766H505.5M497.1 776H505.5"/></g>
<path d="M501.3 767.15L504.95 774.45L497.65 774.45Z" fill="#0000ff"/>
<g stroke="#800080" stroke-opacity="0.34" stroke-width="1.05" fill="none"><path d="M516 766.6H529M516 762.4V770.8M529 762.4V770.8"/></g><g stroke="#800080" stroke-opacity="0.7" stroke-width="1.05" fill="none"><path d="M522.6 761V772M518.4 761H526.8M518.4 772H526.8"/></g>
<path d="M522.6 761.44L527.76 766.6L522.6 771.76L517.44 766.6Z" fill="#800080"/>
<g stroke="#008000" stroke-opacity="0.34" stroke-width="1.05" fill="none"><path d="M533.6 769.9H546.1M533.6 765.7V774.1M546.1 765.7V774.1"/></g><g stroke="#008000" stroke-opacity="0.7" stroke-width="1.05" fill="none"><path d="M539.8 763.4V775.1M535.6 763.4H544M535.6 775.1H544"/></g>
<path d="M539.8 766.25L543.45 773.55L536.15 773.55Z" fill="#008000"/>
<g stroke="#ff0000" stroke-opacity="0.34" stroke-width="1.05" fill="none"><path d="M509 772.4H522M509 768.2V776.6M522 768.2V776.6"/></g><g stroke="#ff0000" stroke-opacity="0.7" stroke-width="1.05" fill="none"><path d="M515.5 766.4V778M511.3 766.4H519.7M511.3 778H519.7"/></g>
<path d="M515.5 768.75L519.15 776.05L511.85 776.05Z" fill="#ff0000"/>
<g stroke="#800080" stroke-opacity="0.34" stroke-width="1.05" fill="none"><path d="M497.8 778H513M497.8 773.8V782.2M513 773.8V782.2"/></g><g stroke="#800080" stroke-opacity="0.7" stroke-width="1.05" fill="none"><path d="M505.6 773V783M501.4 773H509.8M501.4 783H509.8"/></g>
<path d="M505.6 774.35L509.25 781.65L501.95 781.65Z" fill="#800080"/>
<g stroke="#ff0000" stroke-opacity="0.34" stroke-width="1.05" fill="none"><path d="M505 781.5H520M505 777.3V785.7M520 777.3V785.7"/></g><g stroke="#ff0000" stroke-opacity="0.7" stroke-width="1.05" fill="none"><path d="M512.6 775V789.7M508.4 775H516.8M508.4 789.7H516.8"/></g>
<circle cx="512.6" cy="781.5" r="3.72" fill="#ff0000"/>
<g stroke="#ff0000" stroke-opacity="0.34" stroke-width="1.05" fill="none"><path d="M523.1 781.5H541.5M523.1 777.3V785.7M541.5 777.3V785.7"/></g><g stroke="#ff0000" stroke-opacity="0.7" stroke-width="1.05" fill="none"><path d="M527.2 776V787M523 776H531.4M523 787H531.4"/></g>
<path d="M527.2 776.34L532.36 781.5L527.2 786.66L522.04 781.5Z" fill="#ff0000"/>
<g stroke="#008000" stroke-opacity="0.34" stroke-width="1.05" fill="none"><path d="M488.5 786.4H515M488.5 782.2V790.6M515 782.2V790.6"/></g><g stroke="#008000" stroke-opacity="0.7" stroke-width="1.05" fill="none"><path d="M501.9 781V792M497.7 781H506.1M497.7 792H506.1"/></g>
<circle cx="501.9" cy="786.4" r="3.72" fill="#008000"/>
<g stroke="#0000ff" stroke-opacity="0.34" stroke-width="1.05" fill="none"><path d="M500.6 791.5H513.4M500.6 787.3V795.7M513.4 787.3V795.7"/></g><g stroke="#0000ff" stroke-opacity="0.7" stroke-width="1.05" fill="none"><path d="M506.4 785V798.1M502.2 785H510.6M502.2 798.1H510.6"/></g>
<path d="M506.4 786.34L511.56 791.5L506.4 796.66L501.24 791.5Z" fill="#0000ff"/>
<rect x="357.6" y="669.3" width="222.2" height="168.7" fill="none" stroke="#8f8f8f" stroke-width="1.15"/>
<path d="M416.3 838.75v2.2M487.1 838.75v2.2M557.9 838.75v2.2M356.85 793.4h-2.2M356.85 739.5h-2.2M356.85 685.8h-2.2" stroke="#aaa" stroke-width="1" fill="none"/>
<text transform="translate(416.3 850.4) scale(1.0400 1)" class="tk" text-anchor="middle">200</text>
<text transform="translate(487.1 850.4) scale(1.0400 1)" class="tk" text-anchor="middle">300</text>
<text transform="translate(557.9 850.4) scale(1.0400 1)" class="tk" text-anchor="middle">400</text>
<text transform="translate(353.9 798.05) scale(1.0400 1)" class="tk" text-anchor="end">200</text>
<text transform="translate(353.9 744.15) scale(1.0400 1)" class="tk" text-anchor="end">300</text>
<text transform="translate(353.9 690.45) scale(1.0400 1)" class="tk" text-anchor="end">400</text>
<text transform="translate(468.7 665) scale(1.0900 1)" class="sub" text-anchor="middle">Transverse</text>
<text transform="translate(468.7 872.8) scale(1.1070 1)" class="lab" text-anchor="middle">UniBa</text>
<text transform="translate(328.8 753.65) rotate(-90)" class="labv" text-anchor="middle">LUMC</text>
<path d="M587.4 99.6H611" stroke="#9a9a9a" stroke-width="2.2"/>
<path d="M599.2 106.4V123.4" stroke="#777" stroke-width="2.8"/>
<text transform="translate(618.3 103.8) scale(1.0100 1)" class="lg">UniBa Group</text>
<text transform="translate(618.3 119.1) scale(0.9750 1)" class="lg">LUMC Group</text>
<rect x="590" y="132.1" width="21.4" height="7.7" fill="#0000ff"/>
<text transform="translate(619.5 139.8) scale(1.0350 1)" class="lg">Cohort 8</text>
<rect x="590" y="147.43" width="21.4" height="7.7" fill="#008000"/>
<text transform="translate(619.5 155.13) scale(1.0350 1)" class="lg">Cohort 12</text>
<rect x="590" y="162.76" width="21.4" height="7.7" fill="#ff0000"/>
<text transform="translate(619.5 170.46) scale(1.0350 1)" class="lg">Cohort 28</text>
<rect x="590" y="178.09" width="21.4" height="7.7" fill="#800080"/>
<text transform="translate(619.5 185.79) scale(1.0350 1)" class="lg">Cohort 52</text>
<circle cx="600.4" cy="203.4" r="3.6" fill="#000"/>
<path d="M600.4 214.9L604.3 222.2H596.5Z" fill="#000"/>
<rect x="597.2" y="230.7" width="7" height="6.7" fill="#000"/>
<path d="M600.5 244.7L605.3 249.4L600.5 254.1L595.8 249.4Z" fill="#000"/>
<text transform="translate(611.4 206.9) scale(1.0400 1)" class="lm">D2-<tspan font-style="italic">mdx</tspan></text>
<text transform="translate(611.4 222.2) scale(1.0350 1)" class="lm">D2-WT</text>
<text transform="translate(611.4 237.6) scale(1.0300 1)" class="lm">BL10-<tspan font-style="italic">mdx</tspan></text>
<text transform="translate(611.4 252.8) scale(1.0200 1)" class="lm">BL10-WT</text>
<rect x="662.3" y="254.5" width="1" height="2" fill="#e8e8e8"/>
<path d="M654.3 1.9V16.6" stroke="#c8c8c8" stroke-width="1.2"/>
</svg>
</body></html>
